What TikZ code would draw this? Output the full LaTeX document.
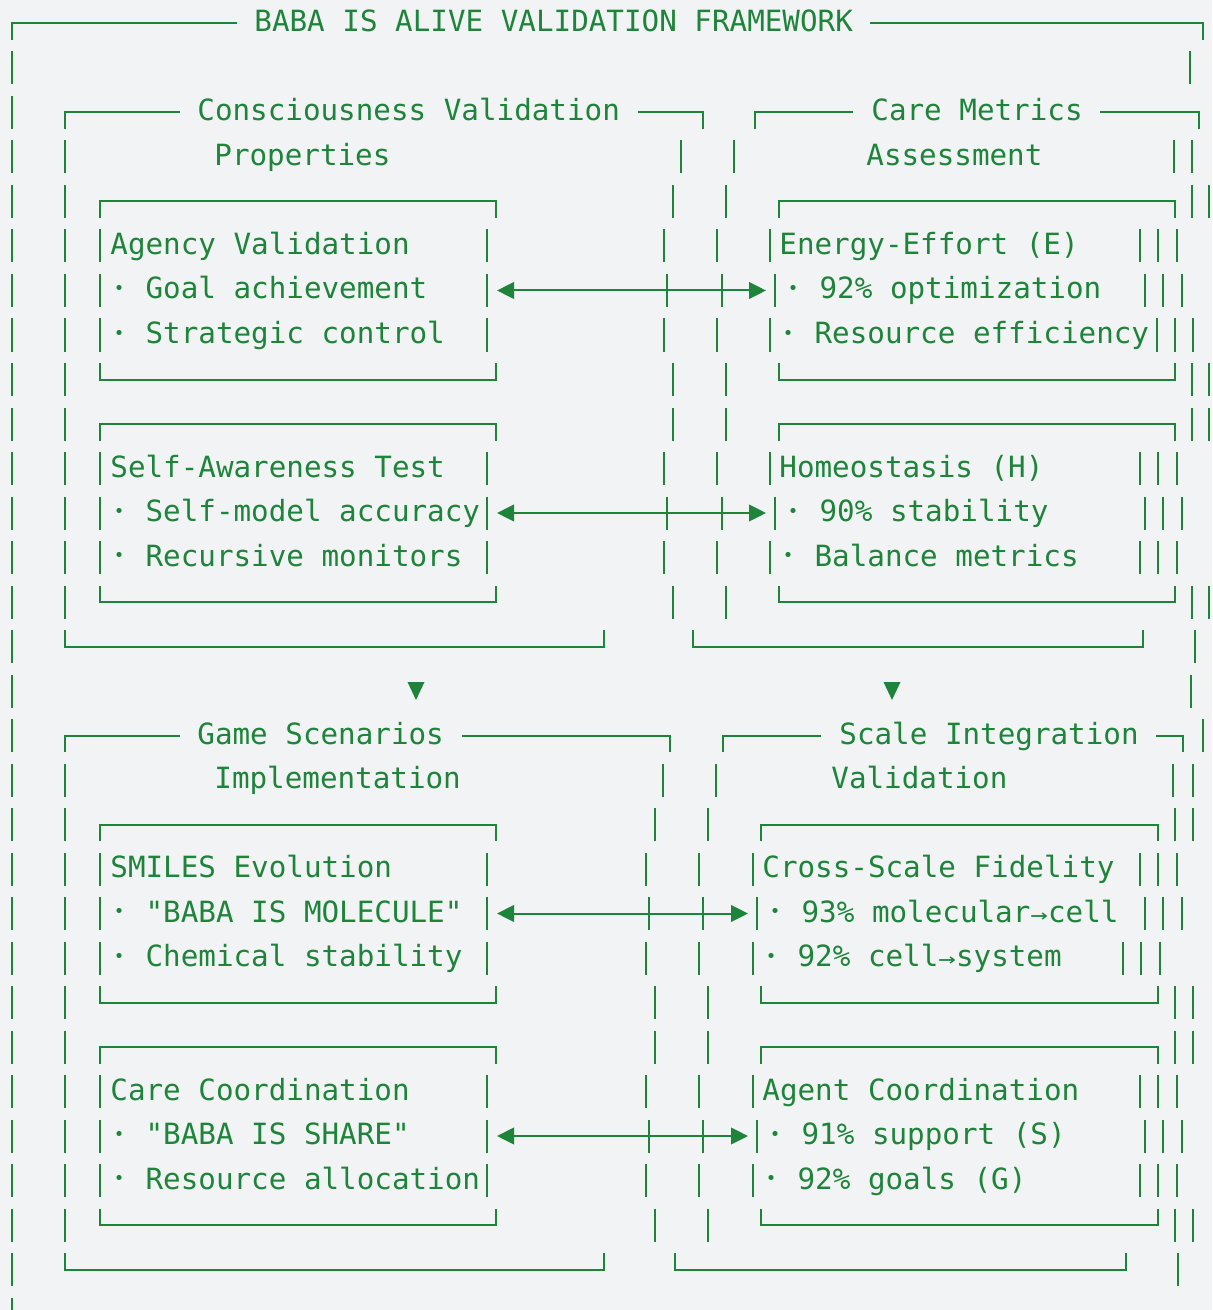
\documentclass[tikz,border=0pt]{standalone}
\usepackage{fontspec}
\setmonofont{DejaVu Sans Mono}
\usepackage{tikz}
\usetikzlibrary{arrows.meta}
\definecolor{termgreen}{RGB}{30,132,58}
\definecolor{termbg}{RGB}{241,243,244}

% one text row is 44.5 units high, row 0 centred at 22
\newcommand{\rowy}[1]{22+44.5*#1}
\newcommand{\vbars}[2]{\foreach \bx in {#2}{\draw[frame] (\bx,{\rowy{#1}-15}) -- ++(0,33);}}
\newcommand{\frametop}[3]{\draw[frame] (#2,{\rowy{#1}+18}) |- (#3,{\rowy{#1}+1.5}) -- ++(0,16.5);}
\newcommand{\framebot}[3]{\draw[frame] (#2,{\rowy{#1}-15}) |- (#3,{\rowy{#1}+1.5}) -- ++(0,-16.5);}
\newcommand{\framehead}[5]{\draw[frame] (#2,{\rowy{#1}+18}) |- (#3,{\rowy{#1}+1.5});
  \draw[frame] (#4,{\rowy{#1}+1.5}) -| (#5,{\rowy{#1}+18});}
\newcommand{\sarr}{\scalebox{1}[0.75]{→}}
\newcommand{\bul}{\makebox[0.602em]{\raisebox{0.15em}{\scalebox{0.6}{•}}}}

\begin{document}
\begin{tikzpicture}[x=0.5pt,y=-0.5pt,
  frame/.style={draw=termgreen,line width=1pt},
  link/.style={frame,{Triangle[length=8.5pt,width=8.3pt]}-{Triangle[length=8.5pt,width=8.3pt]}},
  txt/.style={anchor=base west,inner sep=0pt,text=termgreen,font=\ttfamily\fontsize{14.62pt}{17pt}\selectfont}]
    \fill[termbg] (0,0) rectangle (1212,1310);
    \useasboundingbox (0,0) rectangle (1212,1310);

    % outer frame and group headers
    \framehead{0}{12}{237}{870}{1203}
    \node[txt] at (254,32) (title) {BABA IS ALIVE VALIDATION FRAMEWORK};
    \foreach \r in {1,...,29} {\vbars{\r}{12}}
    \framehead{2}{65}{180}{638}{703}
    \framehead{2}{755}{853}{1100}{1199}
    \node[txt] at (197,121) (consA) {Consciousness Validation};
    \node[txt] at (214,165.5) (consB) {Properties};
    \node[txt] at (871,121) (careA) {Care Metrics};
    \node[txt] at (866,165.5) (careB) {Assessment};

    % upper row of boxes
    \vbars{1}{1190}
    \vbars{3}{65,681,734,1174,1192}
    \vbars{4}{65,673,726,1192,1209} \frametop{4}{100}{496} \frametop{4}{779}{1175}
    \vbars{5}{65,100,487,664,717,770,1140,1158,1177}
    \vbars{6}{65,100,487,667,722,775,1145,1163,1182}
    \vbars{7}{65,100,487,664,717,770,1157,1175,1193}
    \vbars{8}{65,673,726,1192,1209} \framebot{8}{100}{496} \framebot{8}{779}{1175}
    \vbars{9}{65,673,726,1192,1209} \frametop{9}{100}{496} \frametop{9}{779}{1175}
    \vbars{10}{65,100,487,664,717,770,1140,1158,1177}
    \vbars{11}{65,100,487,667,722,775,1145,1163,1182}
    \vbars{12}{65,100,487,664,717,770,1140,1158,1177}
    \vbars{13}{65,673,726,1192,1209} \framebot{13}{100}{496} \framebot{13}{779}{1175}
    \vbars{14}{1195} \framebot{14}{65}{604} \framebot{14}{693}{1143}

    \node[txt] at (110,254.5) (agency) {Agency Validation};
    \node[txt] at (110,299) (agency1) {\bul{} Goal achievement};
    \node[txt] at (110,343.5) (agency2) {\bul{} Strategic control};
    \node[txt] at (779,254.5) (energy) {Energy-Effort (E)};
    \node[txt] at (784,299) (energy1) {\bul{} 92\% optimization};
    \node[txt] at (779,343.5) (energy2) {\bul{} Resource efficiency};
    \node[txt] at (110,477) (selfaw) {Self-Awareness Test};
    \node[txt] at (110,521.5) (selfaw1) {\bul{} Self-model accuracy};
    \node[txt] at (110,566) (selfaw2) {\bul{} Recursive monitors};
    \node[txt] at (779,477) (homeo) {Homeostasis (H)};
    \node[txt] at (784,521.5) (homeo1) {\bul{} 90\% stability};
    \node[txt] at (779,566) (homeo2) {\bul{} Balance metrics};

    \coordinate (agencyR) at (497,290.5);
    \coordinate (energyL) at (766,290.5);
    \coordinate (selfawR) at (497,513);
    \coordinate (homeoL) at (766,513);
    \draw[link] (agencyR) -- (energyL);
    \draw[link] (selfawR) -- (homeoL);

    % flow down to the lower groups
    \vbars{15}{1191}
    \fill[termgreen] (407.5,682) -- (424.5,682) -- (416,700) -- cycle;
    \fill[termgreen] (883.5,682) -- (900.5,682) -- (892,700) -- cycle;

    \vbars{16}{1203}
    \framehead{16}{65}{180}{462}{670}
    \framehead{16}{723}{821}{1156}{1183}
    \node[txt] at (197,744) (gameA) {Game Scenarios};
    \node[txt] at (214,788.5) (gameB) {Implementation};
    \node[txt] at (839,744) (scaleA) {Scale Integration};
    \node[txt] at (831,788.5) (scaleB) {Validation};

    % lower row of boxes
    \vbars{17}{65,663,716,1173,1193}
    \vbars{18}{65,655,708,1175,1193} \frametop{18}{100}{496} \frametop{18}{761}{1158}
    \vbars{19}{65,100,487,646,699,753,1140,1158,1177}
    \vbars{20}{65,100,487,649,703,757,1145,1163,1182}
    \vbars{21}{65,100,487,646,699,753,1123,1141,1160}
    \vbars{22}{65,655,708,1175,1193} \framebot{22}{100}{496} \framebot{22}{761}{1158}
    \vbars{23}{65,655,708,1175,1193} \frametop{23}{100}{496} \frametop{23}{761}{1158}
    \vbars{24}{65,100,487,646,699,753,1140,1158,1177}
    \vbars{25}{65,100,487,649,703,757,1145,1163,1182}
    \vbars{26}{65,100,487,646,699,753,1140,1158,1177}
    \vbars{27}{65,655,708,1175,1193} \framebot{27}{100}{496} \framebot{27}{761}{1158}
    \vbars{28}{1178} \framebot{28}{65}{604} \framebot{28}{675}{1126}

    \node[txt] at (110,877.5) (smiles) {SMILES Evolution};
    \node[txt] at (110,922) (smiles1) {\bul{} "BABA IS MOLECULE"};
    \node[txt] at (110,966.5) (smiles2) {\bul{} Chemical stability};
    \node[txt] at (762,877.5) (cross) {Cross-Scale Fidelity};
    \node[txt] at (766,922) (cross1) {\bul{} 93\% molecular\sarr cell};
    \node[txt] at (762,966.5) (cross2) {\bul{} 92\% cell\sarr system};
    \node[txt] at (110,1100) (carec) {Care Coordination};
    \node[txt] at (110,1144.5) (carec1) {\bul{} "BABA IS SHARE"};
    \node[txt] at (110,1189) (carec2) {\bul{} Resource allocation};
    \node[txt] at (762,1100) (agent) {Agent Coordination};
    \node[txt] at (766,1144.5) (agent1) {\bul{} 91\% support (S)};
    \node[txt] at (762,1189) (agent2) {\bul{} 92\% goals (G)};

    \coordinate (smilesR) at (497,913.5);
    \coordinate (crossL) at (748,913.5);
    \coordinate (carecR) at (497,1136);
    \coordinate (agentL) at (748,1136);
    \draw[link] (smilesR) -- (crossL);
    \draw[link] (carecR) -- (agentL);
\end{tikzpicture}
\end{document}
